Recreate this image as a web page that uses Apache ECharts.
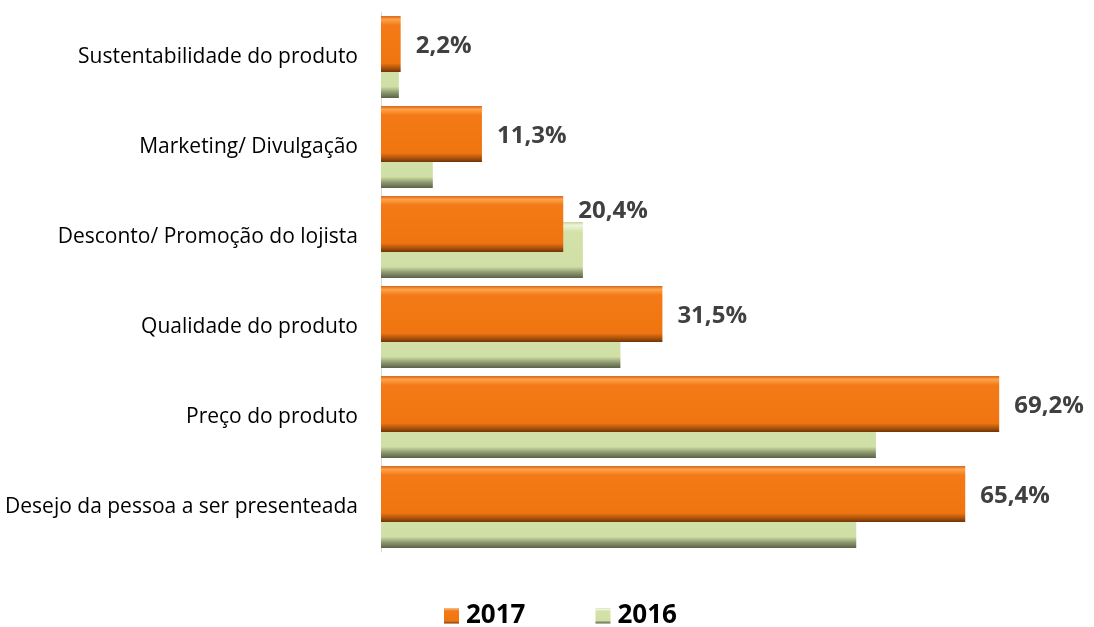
<!DOCTYPE html>
<html>
<head>
<meta charset="utf-8">
<script src="https://cdn.jsdelivr.net/npm/echarts@6/dist/echarts.min.js"></script>
<style>
  html, body { margin: 0; padding: 0; background: #fff; }
  #chart { width: 1094px; height: 627px; }
</style>
</head>
<body>
<div id="chart"></div>
<script>
const categories = [
  'Sustentabilidade do produto',
  'Marketing/ Divulgação',
  'Desconto/ Promoção do lojista',
  'Qualidade do produto',
  'Preço do produto',
  'Desejo da pessoa a ser presenteada'
]
const values2017 = [2.2, 11.3, 20.4, 31.5, 69.2, 65.4]
const values2016 = [2.0, 5.8, 22.6, 26.8, 55.4, 53.2]

const font = 'Open Sans'

// bevel look: light top edge, dark bottom edge
const orangeFill = new echarts.graphic.LinearGradient(0, 0, 0, 1, [
  { offset: 0, color: '#D9691A' },
  { offset: 0.06, color: '#FFA24A' },
  { offset: 0.16, color: '#F37A16' },
  { offset: 0.84, color: '#F07511' },
  { offset: 0.93, color: '#A9520C' },
  { offset: 1, color: '#6E3306' }
])
const greenFill = new echarts.graphic.LinearGradient(0, 0, 0, 1, [
  { offset: 0, color: '#C3D39A' },
  { offset: 0.06, color: '#EEF5D8' },
  { offset: 0.18, color: '#D3E2A9' },
  { offset: 0.8, color: '#D0DFA6' },
  { offset: 0.9, color: '#8E9A70' },
  { offset: 1, color: '#5C6248' }
])

const chart = echarts.init(document.getElementById('chart'))

const labelData = values2017.map(function (v, i) {
  if (i === 2) {
    return { value: v, label: { offset: [0, -13] } }
  }
  return v
})

const option = {
  animation: false,
  grid: { left: 381, right: 43, top: 12, bottom: 75 },
  legend: {
    top: 603,
    left: 444,
    padding: 0,
    icon: 'rect',
    itemWidth: 15,
    itemHeight: 15,
    itemGap: 70,
    data: ['2017', '2016'],
    textStyle: { fontFamily: font, fontSize: 26, fontWeight: 'bold', color: '#000', padding: [0, 0, 0, 2] }
  },
  xAxis: {
    type: 'value',
    min: 0,
    max: 75,
    show: false
  },
  yAxis: {
    type: 'category',
    data: categories,
    inverse: true,
    axisLine: { show: true, lineStyle: { color: '#D9D9D9', width: 1 } },
    axisTick: { show: false },
    axisLabel: { fontFamily: font, fontSize: 21, color: '#000', margin: 23 }
  },
  series: [
    {
      name: '2017',
      type: 'bar',
      data: labelData,
      barWidth: 56,
      barGap: '-54%',
      z: 3,
      itemStyle: { color: orangeFill },
      label: {
        show: true,
        position: 'right',
        distance: 15,
        offset: [0, 2],
        fontFamily: font,
        fontSize: 24,
        fontWeight: 'bold',
        color: '#404040',
        formatter: function (p) {
          return p.value.toFixed(1).replace('.', ',') + '%'
        }
      }
    },
    {
      name: '2016',
      type: 'bar',
      data: values2016,
      barWidth: 56,
      z: 2,
      itemStyle: { color: greenFill }
    }
  ]
}

chart.setOption(option)
</script>
</body>
</html>
